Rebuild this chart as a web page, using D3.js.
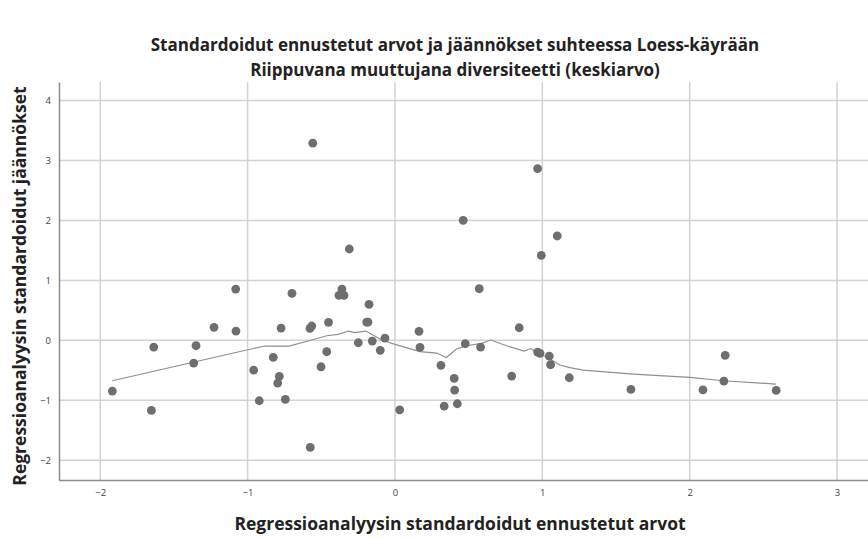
<!DOCTYPE html>
<html>
<head>
<meta charset="utf-8">
<script src="https://cdn.jsdelivr.net/npm/d3@7"></script>
<style>
  body { margin: 0; background: #fff; }
  text { font-family: "Open Sans", sans-serif; }
</style>
</head>
<body>
<div class="chart"></div>
<script>
// standardized predicted values (x) and residuals (y)
const PRED = [-1.918, -1.653, -1.637, -1.366, -1.350, -1.228, -1.081, -1.079, -0.959, -0.921,
              -0.826, -0.785, -0.796, -0.744, -0.773, -0.699, -0.577, -0.565, -0.575, -0.502,
              -0.463, -0.451, -0.360, -0.380, -0.346, -0.176, -0.192, -0.183, -0.249, -0.154,
              -0.100, -0.068, 0.032, 0.163, 0.170, 0.312, 0.334, 0.402, 0.405, 0.423,
              0.477, 0.581, 0.572, 0.792, 0.843, 0.968, 0.984, 1.047, 1.056, 1.183,
              1.601, 2.090, 2.241, 2.232, 2.587, -0.558, -0.310, 0.463, 0.968, 1.101, 0.993];
const RESID = [-0.846, -1.169, -0.112, -0.379, -0.090, 0.217, 0.856, 0.155, -0.496, -1.008,
               -0.284, -0.601, -0.713, -0.985, 0.205, 0.785, 0.200, 0.239, -1.786, -0.441,
               -0.190, 0.300, 0.856, 0.751, 0.751, 0.601, 0.305, 0.305, -0.040, -0.012,
               -0.167, 0.038, -1.159, 0.150, -0.117, -0.417, -1.097, -0.634, -0.830, -1.058,
               -0.057, -0.112, 0.861, -0.596, 0.210, -0.195, -0.217, -0.262, -0.407, -0.624,
               -0.818, -0.825, -0.250, -0.679, -0.835, 3.289, 1.524, 2.003, 2.865, 1.741, 1.419];

// loess curve as drawn in the picture
const LOESS_X = [-1.918, -1.029, -0.882, -0.719, -0.577, -0.463, -0.385, -0.317, -0.271, -0.197,
                 -0.147, -0.090, 0.000, 0.170, 0.283, 0.349, 0.417, 0.486, 0.588, 0.649,
                 0.758, 0.875, 0.923, 0.957, 1.029, 1.119, 1.187, 1.277, 1.617, 2.001, 2.227, 2.585];
const LOESS_Y = [-0.674, -0.174, -0.095, -0.095, -0.003, 0.077, 0.100, 0.155, 0.130, 0.155,
                 0.085, 0.005, -0.067, -0.187, -0.212, -0.287, -0.145, -0.090, -0.050, 0.005,
                 -0.090, -0.179, -0.137, -0.200, -0.279, -0.412, -0.454, -0.496, -0.563, -0.618, -0.674, -0.730];

const X_TICKS = [-2, -1, 0, 1, 2, 3];
const Y_TICKS = [-2, -1, 0, 1, 2, 3, 4];

const TITLE1 = "Standardoidut ennustetut arvot ja jäännökset suhteessa Loess-käyrään";
const TITLE2 = "Riippuvana muuttujana diversiteetti (keskiarvo)";
const XLABEL = "Regressioanalyysin standardoidut ennustetut arvot";
const YLABEL = "Regressioanalyysin standardoidut jäännökset";

var W = 868, H = 538;
var plotL = 59, plotR = 868, plotT = 82, plotB = 480;

var svg = d3.select(".chart").append("svg")
  .attr("width", W).attr("height", H);

var x = d3.scaleLinear().domain([-2.28, 3.21]).range([plotL, plotR]);
var y = d3.scaleLinear().domain([-2.33, 4.31]).range([plotB, plotT]);

// grid
svg.append("g").selectAll("line").data(Y_TICKS).enter().append("line")
  .attr("x1", plotL).attr("x2", plotR)
  .attr("y1", d => y(d)).attr("y2", d => y(d))
  .attr("stroke", "#d3d3d3").attr("stroke-width", 1.5);
svg.append("g").selectAll("line").data(X_TICKS).enter().append("line")
  .attr("y1", plotT).attr("y2", plotB)
  .attr("x1", d => x(d)).attr("x2", d => x(d))
  .attr("stroke", "#d3d3d3").attr("stroke-width", 1.5);

// axes
var fmt = d3.format("d");
var xAxis = svg.append("g")
  .attr("transform", "translate(0," + plotB + ")")
  .call(d3.axisBottom(x).tickValues(X_TICKS).tickFormat(fmt).tickSize(0).tickPadding(9));
var yAxis = svg.append("g")
  .attr("transform", "translate(" + plotL + ",0)")
  .call(d3.axisLeft(y).tickValues(Y_TICKS).tickFormat(fmt).tickSize(0).tickPadding(8));
[xAxis, yAxis].forEach(a => {
  a.select(".domain").attr("stroke", "#8c8c8c").attr("stroke-width", 1.5);
  a.selectAll("text").attr("fill", "#444").style("font-size", "9.5px")
    .style("font-family", "'Open Sans', sans-serif");
});

// loess line
var line = d3.line().x(d => x(d[0])).y(d => y(d[1]));
svg.append("path")
  .datum(LOESS_X.map((v, i) => [v, LOESS_Y[i]]))
  .attr("d", line)
  .attr("fill", "none").attr("stroke", "#8f8f8f").attr("stroke-width", 1.2);

// points
svg.append("g").selectAll("circle")
  .data(PRED.map((v, i) => [v, RESID[i]]))
  .enter().append("circle")
  .attr("cx", d => x(d[0])).attr("cy", d => y(d[1]))
  .attr("r", 4.4).attr("fill", "#6e6e6e");

// titles
svg.append("text").attr("x", 455).attr("y", 51).attr("text-anchor", "middle")
  .style("font-size", "17px").style("font-weight", "bold").attr("fill", "#222").text(TITLE1);
svg.append("text").attr("x", 455).attr("y", 76).attr("text-anchor", "middle")
  .style("font-size", "17px").style("font-weight", "bold").attr("fill", "#222").text(TITLE2);
svg.append("text").attr("x", 460).attr("y", 530).attr("text-anchor", "middle")
  .style("font-size", "17.5px").style("font-weight", "bold").attr("fill", "#222").text(XLABEL);
svg.append("text").attr("transform", "translate(26,286) rotate(-90)").attr("text-anchor", "middle")
  .style("font-size", "17.5px").style("font-weight", "bold").attr("fill", "#222").text(YLABEL);
</script>
</body>
</html>
